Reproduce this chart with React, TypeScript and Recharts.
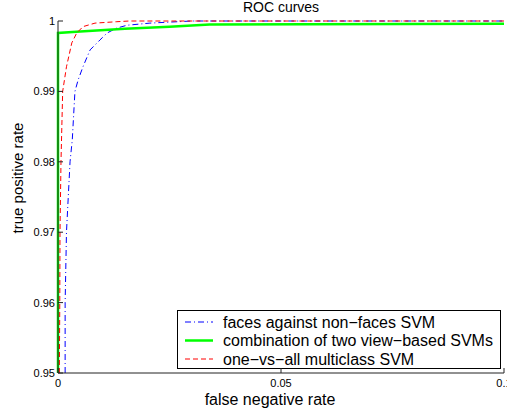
import React from 'react'
import { LineChart, Line, XAxis, YAxis } from 'recharts'

// axis ticks
const xTicks = [0, 0.05, 0.1]
const yTicks = [0.95, 0.96, 0.97, 0.98, 0.99, 1]

// faces against non-faces SVM (blue, dash-dot)
const facesFpr = [0.0016, 0.0016, 0.0019, 0.0027, 0.0032, 0.0038, 0.0045, 0.0056, 0.0072, 0.0094, 0.011, 0.0132, 0.0155, 0.0206, 0.03, 0.1]
const facesTpr = [0.95, 0.96, 0.97, 0.98, 0.9831, 0.99, 0.9916, 0.9935, 0.9959, 0.9973, 0.9983, 0.999, 0.9994, 0.9997, 1, 1]

// combination of two view-based SVMs (green, solid)
const comboFpr = [0, 0, 0.005, 0.015, 0.025, 0.034, 0.1]
const comboTpr = [0.95, 0.9983, 0.9985, 0.9989, 0.9992, 0.9995, 0.9996]

// one-vs-all multiclass SVM (red, dashed)
const oneVsAllFpr = [0.0003, 0.0004, 0.00045, 0.00067, 0.00105, 0.0019, 0.0031, 0.0042, 0.0056, 0.0083, 0.0132, 0.016, 0.1]
const oneVsAllTpr = [0.95, 0.96, 0.97, 0.98, 0.99, 0.9935, 0.9969, 0.9983, 0.9992, 0.9997, 0.9999, 1, 1]

const toPoints = (xs: number[], ys: number[]) => xs.map((x, i) => ({ x, y: ys[i] }))

const series = [
  { name: 'faces against non\u2212faces SVM', data: toPoints(facesFpr, facesTpr), color: '#0000ff', width: 1, dash: '6 3 1 3' },
  { name: 'combination of two view\u2212based SVMs', data: toPoints(comboFpr, comboTpr), color: '#00ff00', width: 2.5, dash: undefined },
  { name: 'one\u2212vs\u2212all multiclass SVM', data: toPoints(oneVsAllFpr, oneVsAllTpr), color: '#ff0000', width: 1, dash: '5 3' },
]

const FONT = '"Liberation Sans", Arial, Helvetica, sans-serif'

const XTick = ({ x, y, payload }: any) => (
  <g>
    <line x1={x} y1={y} x2={x} y2={y - 5} stroke="#222" />
    <text x={x} y={y + 10} textAnchor="middle" dominantBaseline="central" fontSize={11} fontFamily={FONT} fill="#000">
      {String(payload.value)}
    </text>
  </g>
)

const YTick = ({ x, y, payload }: any) => (
  <g>
    <line x1={x} y1={y} x2={x + 5} y2={y} stroke="#222" />
    <text x={x - 3} y={y} textAnchor="end" dominantBaseline="central" fontSize={11} fontFamily={FONT} fill="#000">
      {String(payload.value)}
    </text>
  </g>
)

// legend box drawn inside the chart svg so it doesn't shrink the plot area
const LegendBox = ({ left, top }: { left: number; top: number }) => (
  <g transform={`translate(${left}, ${top})`}>
    <rect x={0.5} y={0.5} width={323} height={58} fill="#fff" stroke="#000" />
    {series.map((s, i) => {
      const cy = 12 + i * 18.5
      return (
        <g key={s.name}>
          <line x1={8} y1={cy} x2={36} y2={cy} stroke={s.color} strokeWidth={s.width} strokeDasharray={s.dash} />
          <text x={46} y={cy} dominantBaseline="central" fontSize={16} fontFamily={FONT} fill="#000">
            {s.name}
          </text>
        </g>
      )
    })}
  </g>
)

export default function App() {
  return (
    <div style={{ position: 'absolute', left: 0, top: 0, background: '#fff' }}>
      <LineChart width={507} height={414} margin={{ top: 21, right: 3, left: 0, bottom: 0 }}>
        <XAxis
          dataKey="x"
          type="number"
          domain={[0, 0.1]}
          ticks={xTicks}
          interval={0}
          height={41}
          tickSize={0}
          tickMargin={0}
          tickLine={false}
          stroke="#222"
          tick={<XTick />}
        />
        <YAxis
          dataKey="y"
          type="number"
          domain={[0.95, 1]}
          ticks={yTicks}
          interval={0}
          width={58}
          tickSize={0}
          tickMargin={0}
          tickLine={false}
          stroke="#222"
          tick={<YTick />}
        />
        {series.map((s) => (
          <Line
            key={s.name}
            data={s.data}
            dataKey="y"
            name={s.name}
            type="linear"
            stroke={s.color}
            strokeWidth={s.width}
            strokeDasharray={s.dash}
            dot={false}
            activeDot={false}
            isAnimationActive={false}
          />
        ))}
        <LegendBox left={177} top={310} />
        <text x={281} y={12} textAnchor="middle" fontSize={14} fontFamily={FONT} fill="#000">ROC curves</text>
        <text x={270} y={405} textAnchor="middle" fontSize={16} fontFamily={FONT} fill="#000">false negative rate</text>
        <text x={23} y={178} textAnchor="middle" fontSize={15} fontFamily={FONT} fill="#000" transform="rotate(-90, 23, 178)">true positive rate</text>
      </LineChart>
    </div>
  )
}
